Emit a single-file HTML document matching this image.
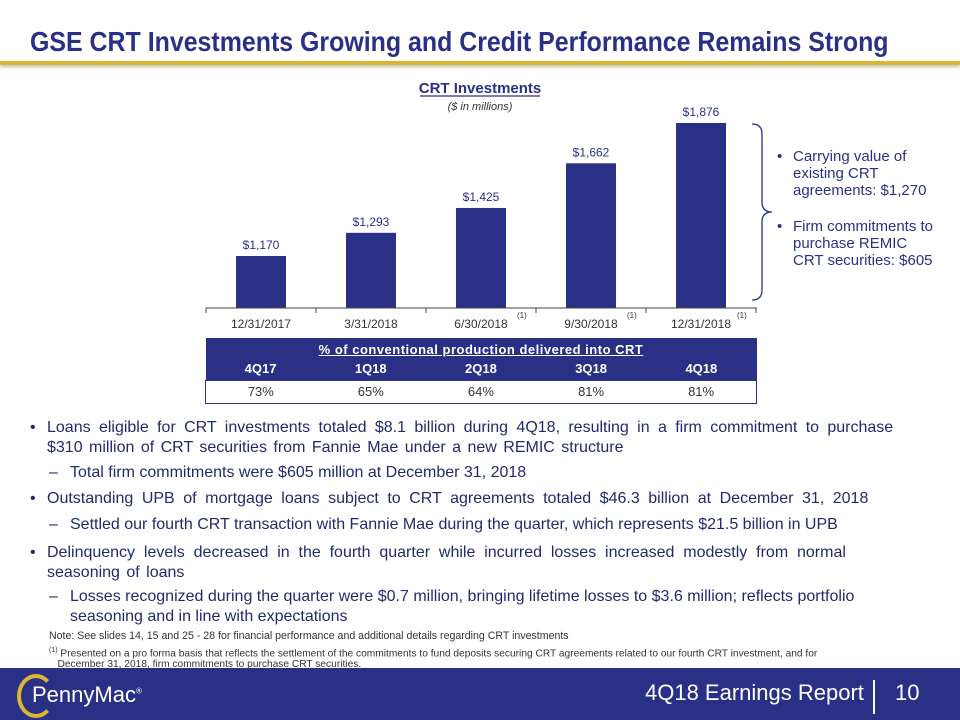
<!DOCTYPE html>
<html><head><meta charset="utf-8"><style>
body{margin:0;width:960px;height:720px;overflow:hidden;background:#fff;font-family:"Liberation Sans",sans-serif;color:#222a6e;position:relative}
.abs{position:absolute}
#title{left:30px;top:26px;font-weight:bold;font-size:28px;color:#2b3087;white-space:nowrap;transform:scaleX(0.89);transform-origin:0 0}
#gold{left:0;top:61px;width:960px;height:4px;background:#dcb631;box-shadow:0 2px 3px #bbb}
.b{font-size:16px;line-height:20px;white-space:nowrap;position:relative;margin-top:6px}
.foot{font-size:10.6px;color:#333;white-space:nowrap}
#band{left:0;top:668px;width:960px;height:52px;background:#2b3087}
</style></head><body>
<div class="abs" id="title">GSE CRT Investments Growing and Credit Performance Remains Strong</div>
<div class="abs" id="gold"></div>

<svg class="abs" style="left:0;top:0" width="960" height="420">
<text x="480" y="93" text-anchor="middle" font-size="15" font-weight="bold" fill="#2b3087">CRT Investments</text>
<line x1="420" y1="96" x2="540" y2="96" stroke="#2b3087" stroke-width="1.2"/>
<text x="480" y="110" text-anchor="middle" font-size="11" font-style="italic" fill="#333">($ in millions)</text>
<g id="bars"></g>
<line x1="206" y1="308" x2="757" y2="308" stroke="#444" stroke-width="1"/>
<g id="ticks"></g>
<path d="M752 124 Q762 124 762 134 L762 202 Q762 212 772 212 Q762 212 762 222 L762 290 Q762 300 752 300" fill="none" stroke="#2b3087" stroke-width="1.3"/>
</svg>

<div class="abs" style="left:777px;top:148px;font-size:15px;line-height:17px;color:#2b3087">
<div style="position:relative;padding-left:16px"><span style="position:absolute;left:0">•</span>Carrying value of<br>existing CRT<br>agreements: $1,270</div>
<div style="position:relative;padding-left:16px;margin-top:19px"><span style="position:absolute;left:0">•</span>Firm commitments to<br>purchase REMIC<br>CRT securities: $605</div>
</div>

<table class="abs" style="left:205px;top:338px;width:552px;border-collapse:collapse;font-size:13px">
<tr style="background:#2b3087;color:#fff;font-weight:bold;height:20px"><td colspan="5" style="text-align:center;padding-top:3px"><span style="text-decoration:underline;letter-spacing:0.5px">%  of conventional production delivered into CRT</span></td></tr>
<tr style="background:#2b3087;color:#fff;font-weight:bold;height:22px;text-align:center"><td>4Q17</td><td>1Q18</td><td>2Q18</td><td>3Q18</td><td>4Q18</td></tr>
<tr style="height:23px;text-align:center;color:#333;border:1px solid #2b3087"><td>73%</td><td>65%</td><td>64%</td><td>81%</td><td>81%</td></tr>
</table>

<div class="abs" style="left:30px;top:412px;color:#222a6e">
<div class="b" style="padding-left:17px"><span style="position:absolute;left:0">•</span><span style="word-spacing:3.9px">Loans eligible for CRT investments totaled $8.1 billion during 4Q18, resulting in a firm commitment to purchase</span><br><span style="word-spacing:2px">$310 million of CRT securities from Fannie Mae under a new REMIC structure</span></div>
<div class="b" style="padding-left:40px;margin-top:5px"><span style="position:absolute;left:19px">–</span>Total firm commitments were $605 million at December 31, 2018</div>
<div class="b" style="padding-left:17px;word-spacing:4.1px"><span style="position:absolute;left:0">•</span>Outstanding UPB of mortgage loans subject to CRT agreements totaled $46.3 billion at December 31, 2018</div>
<div class="b" style="padding-left:40px"><span style="position:absolute;left:19px">–</span>Settled our fourth CRT transaction with Fannie Mae during the quarter, which represents $21.5 billion in UPB</div>
<div class="b" style="padding-left:17px;margin-top:8px"><span style="position:absolute;left:0">•</span><span style="word-spacing:4.4px">Delinquency levels decreased in the fourth quarter while incurred losses increased modestly from normal</span><br><span style="word-spacing:2px">seasoning of loans</span></div>
<div class="b" style="padding-left:40px;margin-top:4px"><span style="position:absolute;left:19px">–</span>Losses recognized during the quarter were $0.7 million, bringing lifetime losses to $3.6 million; reflects portfolio<br>seasoning and in line with expectations</div>
</div>

<div class="abs foot" style="left:49px;top:630px">Note: See slides 14, 15 and 25 - 28 for financial performance and additional details regarding CRT investments</div>
<div class="abs foot" style="left:49px;top:645px;line-height:11px;font-size:10.2px"><sup style="font-size:7px">(1)</sup> Presented on a pro forma basis that reflects the settlement of the commitments to fund deposits securing CRT agreements related to our fourth CRT investment, and for<br>&nbsp;&nbsp;&nbsp;December 31, 2018, firm commitments to purchase CRT securities.</div>

<div class="abs" id="band">
<div class="abs" style="left:17px;top:6px;width:30px;height:36px;border-radius:50%;border:4px solid #dcb631;border-right-color:transparent"></div>
<div class="abs" style="left:32px;top:14px;color:#fff;font-size:22px">PennyMac<sup style="font-size:8px">®</sup></div>
<div class="abs" style="left:645px;top:12px;color:#fff;font-size:22px">4Q18 Earnings Report</div>
<div class="abs" style="left:873px;top:12px;width:2px;height:34px;background:#fff"></div>
<div class="abs" style="left:895px;top:12px;color:#fff;font-size:22px">10</div>
</div>

<script>
const categories=["12/31/2017","3/31/2018","6/30/2018","9/30/2018","12/31/2018"];
const values=[1170,1293,1425,1662,1876];
const valueLabels=["$1,170","$1,293","$1,425","$1,662","$1,876"];
const footnoted=[false,false,true,true,true];
const NS="http://www.w3.org/2000/svg";
const x0=206,step=110,base=308,vMin=894,k=0.1884,bw=50;
const xC=i=>x0+step*i+step/2;
const yV=v=>base-(v-vMin)*k;
const g=document.getElementById('bars'),t=document.getElementById('ticks');
function mk(tag,at,p){const e=document.createElementNS(NS,tag);for(const a in at)e.setAttribute(a,at[a]);p.appendChild(e);return e;}
values.forEach((v,i)=>{
 const r=mk('rect',{x:xC(i)-bw/2,y:yV(v),width:bw,height:base-yV(v),fill:'#2b3087'},g);
 
 
 const l=mk('text',{x:xC(i),y:yV(v)-7,'text-anchor':'middle','font-size':12,fill:'#2b3087'},g);
 l.textContent=valueLabels[i];
 
 
 const c=mk('text',{x:xC(i),y:base+20,'text-anchor':'middle','font-size':12,fill:'#333'},t);
 c.textContent=categories[i];
 
 
 if(footnoted[i]){const s=mk('text',{x:xC(i)+36,y:base+10,'font-size':8,fill:'#333'},t);s.textContent='(1)';}
});
for(let i=0;i<=categories.length;i++){mk('line',{x1:x0+step*i,y1:base,x2:x0+step*i,y2:base+5,stroke:'#444'},t);}
</script>
</body></html>
